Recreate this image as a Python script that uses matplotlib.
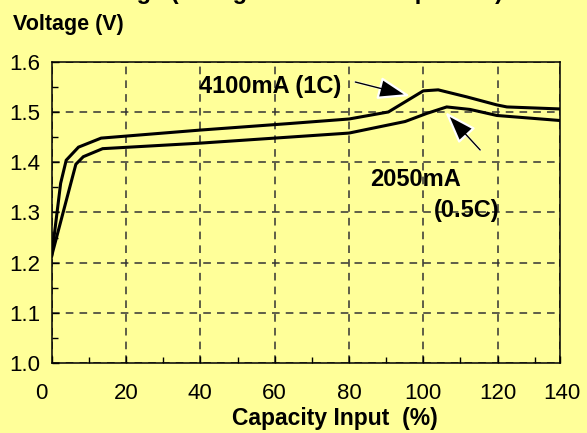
#Charge voltage curves at two charge rates
import matplotlib
matplotlib.use("Agg")
import matplotlib.pyplot as plt
from matplotlib.ticker import MultipleLocator
from matplotlib.transforms import ScaledTranslation

# 4100mA (1C) curve
cap_1c = [0, 2.4, 3.9, 7.2, 13.3, 40, 64, 80, 90.6, 100, 104, 111.7, 119.8, 122.5, 136.8]
volt_1c = [1.214, 1.358, 1.404, 1.430, 1.448, 1.464, 1.477, 1.486, 1.500, 1.542, 1.544,
           1.530, 1.514, 1.510, 1.506]

# 2050mA (0.5C) curve
cap_05c = [0, 3.6, 6.5, 8.5, 13.7, 40, 64, 80, 95.1, 100.9, 106.3, 112.6, 119.8, 136.8]
volt_05c = [1.214, 1.315, 1.396, 1.411, 1.427, 1.438, 1.450, 1.458, 1.481, 1.497, 1.510,
            1.505, 1.493, 1.483]

x_ticks = [0, 20, 40, 60, 80, 100, 120, 136.8]
x_labels = ["0", "20", "40", "60", "80", "100", "120", "140"]
y_ticks = [1.0, 1.1, 1.2, 1.3, 1.4, 1.5, 1.6]

bg = "#ffff99"
plt.rcParams["font.family"] = ["Liberation Sans", "DejaVu Sans"]

fig = plt.figure(figsize=(5.87, 4.33), dpi=100, facecolor=bg)
ax = fig.add_axes([0.0881, 0.161, 0.866, 0.6965], facecolor=bg)

ax.plot(cap_1c, volt_1c, color="black", lw=2.2, solid_joinstyle="miter")
ax.plot(cap_05c, volt_05c, color="black", lw=2.2, solid_joinstyle="miter")

ax.set_xlim(0, 136.8)
ax.set_ylim(1.0, 1.6)
ax.set_xticks(x_ticks)
ax.set_xticklabels(x_labels)
ax.set_yticks(y_ticks)
ax.set_yticklabels([f"{v:.1f}" for v in y_ticks])
ax.xaxis.set_minor_locator(MultipleLocator(10))
ax.yaxis.set_minor_locator(MultipleLocator(0.05))
ax.tick_params(axis="both", which="major", direction="in", length=5, width=1, labelsize=16)
ax.tick_params(axis="both", which="minor", direction="in", length=4, width=1)
ax.tick_params(axis="x", which="major", pad=14)
ax.tick_params(axis="y", which="major", pad=8)

# first and last x labels sit a bit outside the plot edges
lbls = ax.get_xticklabels()
lbls[0].set_transform(lbls[0].get_transform() + ScaledTranslation(-10 / 100, 0, fig.dpi_scale_trans))
lbls[-1].set_transform(lbls[-1].get_transform() + ScaledTranslation(2 / 100, 0, fig.dpi_scale_trans))

ax.grid(True, which="major", color="#333333", lw=1.1, linestyle=(0, (5, 4)))
for s in ax.spines.values():
    s.set_linewidth(1.1)
    s.set_color("black")

# labels
fig.text(13 / 587, 1 - 30 / 433, "Voltage (V)", fontsize=15.5, fontweight="bold",
         ha="left", va="baseline")
fig.text(335 / 587, 1 - 425 / 433, "Capacity Input  (%)", fontsize=16.5, fontweight="bold",
         ha="center", va="baseline")
# title is cut off by the top edge of the image
fig.text(31 / 587, 1 + 1.5 / 433, "Cell Voltage (Charge at Room Temp. 20°C)", fontsize=17,
         fontweight="bold", ha="left", va="baseline")

ax.text(58.8, 1.550, "4100mA (1C)", fontsize=17, fontweight="bold", ha="center", va="center")
ax.text(97.8, 1.365, "2050mA", fontsize=17, fontweight="bold", ha="center", va="center")
ax.text(111.8, 1.303, "(0.5C)", fontsize=17, fontweight="bold", ha="center", va="center")

# arrows: thin black shaft, black head with white outline
arrows = [((81.7, 1.5596), (96.5, 1.5318)), ((115.3, 1.4244), (105.9, 1.4999))]
for tail, tip in arrows:
    ax.annotate("", xy=tip, xytext=tail,
                arrowprops=dict(arrowstyle="-|>,head_length=2.0,head_width=0.7",
                                fc="black", ec="white", lw=1.6, mutation_scale=10,
                                shrinkA=0, shrinkB=0))
    ax.annotate("", xy=tip, xytext=tail,
                arrowprops=dict(arrowstyle="-", color="black", lw=1.0,
                                shrinkA=0, shrinkB=19))

fig.savefig("out.png", dpi=100, facecolor=bg)
